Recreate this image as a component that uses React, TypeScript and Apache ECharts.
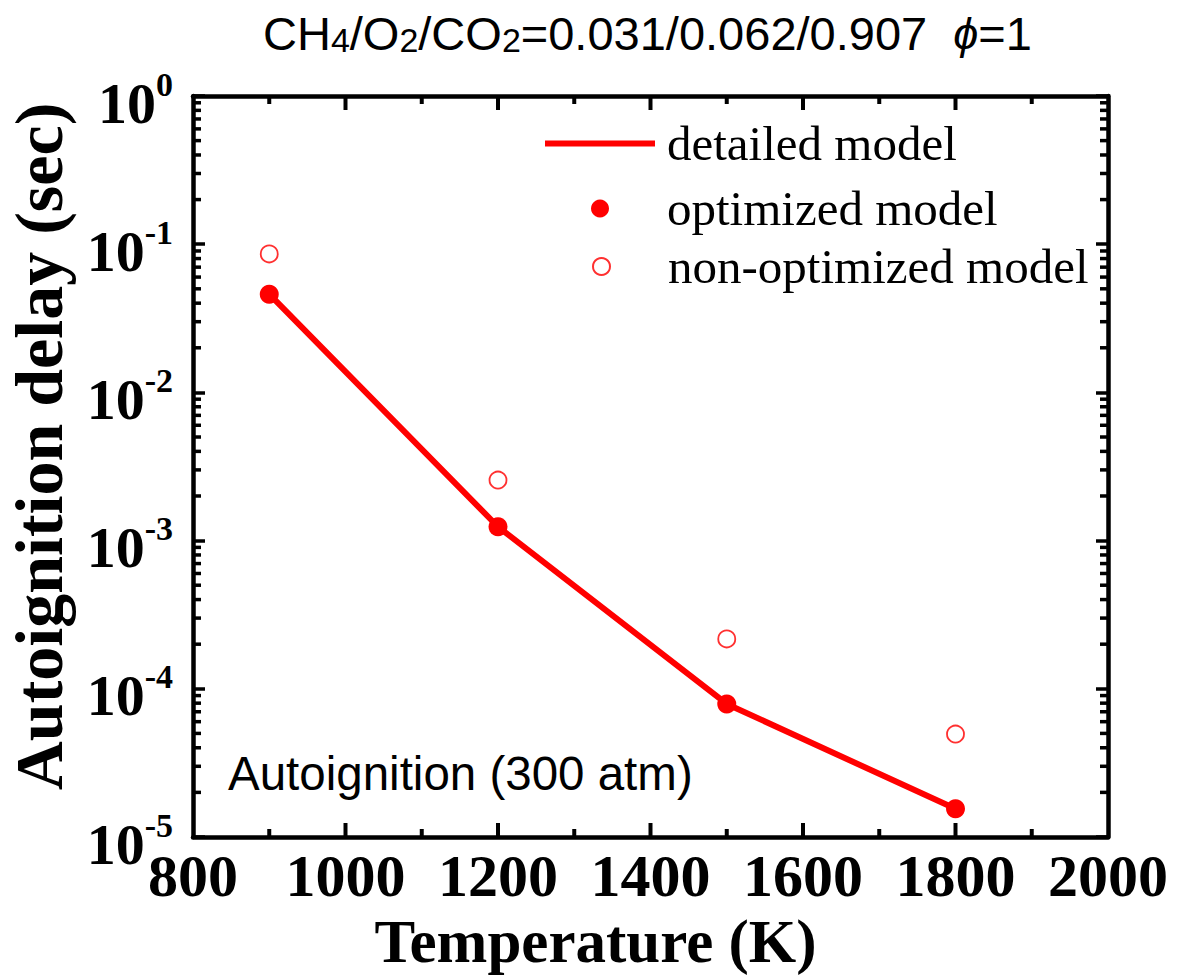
import React, { useEffect, useRef } from "react";
import * as echarts from "echarts";

const temperatures = [900, 1200, 1500, 1800];
const detailedModel = [0.046, 0.00124, 7.9e-5, 1.55e-5];
const optimizedModel = [0.046, 0.00124, 7.9e-5, 1.55e-5];
const nonOptimizedModel = [0.086, 0.00256, 2.17e-4, 4.95e-5];

const xMin = 800;
const xMax = 2000;
const xMajorTicks = [1000, 1200, 1400, 1600, 1800];
const xMinorTicks = [900, 1100, 1300, 1500, 1700, 1900];
const yMin = 1e-5;
const yMax = 1;
const yDecades = [-5, -4, -3, -2, -1];
const yMinorMultipliers = [2, 3, 4, 5, 6, 7, 8, 9];

const seriesNames = ["detailed model", "optimized model", "non-optimized model"];
const annotation = "Autoignition (300 atm)";

const SERIF = '"Liberation Serif", "Times New Roman", serif';
const SANS = '"Liberation Sans", Arial, sans-serif';
const RED = "#ff0000";

export default function App() {
  const ref = useRef<HTMLDivElement>(null);
  useEffect(() => {
    if (!ref.current) return;
    const chart = echarts.init(ref.current, undefined, { renderer: "svg" });

    const yLabel = (v: number) => {
      const e = Math.round(Math.log10(v));
      return `{b|10}{s|${e}}`;
    };

    const mkLine = () => ({ show: true, lineStyle: { color: "#000", width: 4.5 } });
    const mkTick = () => ({ show: true, inside: true, length: 12, lineStyle: { color: "#000", width: 3.5 } });

    const legendText = { fontFamily: SERIF, fontSize: 49, color: "#000" };

    const annotationGraphic = {
      type: "text",
      left: 228,
      top: 749,
      style: { text: annotation, fontFamily: SANS, fontSize: 47.5, fill: "#000" },
    };

    chart.setOption({
      animation: false,
      backgroundColor: "#fff",
      title: {
        left: 258,
        top: 5,
        text: "{n|CH}{s|4}{n|/O}{s|2}{n|/CO}{s|2}{n|=0.031/0.062/0.907  }{i|ϕ}{n|=1}",
        textStyle: {
          fontWeight: "normal",
          rich: {
            n: { fontFamily: SANS, fontWeight: "normal", fontSize: 47, color: "#000", lineHeight: 47 },
            s: { fontFamily: SANS, fontWeight: "normal", fontSize: 34, color: "#000", lineHeight: 34, verticalAlign: "bottom", padding: [40, 0, 0, 0] },
            i: { fontFamily: SANS, fontWeight: "normal", fontSize: 45, fontStyle: "italic", color: "#000", lineHeight: 47 },
          },
        },
      },
      grid: { left: 193, right: 71, top: 96, bottom: 140, containLabel: false, outerBoundsMode: "none" },
      legend: [
        {
          data: [seriesNames[0]],
          left: 540,
          top: 114,
          itemWidth: 110,
          itemHeight: 6,
          icon: "rect",
          textStyle: { ...legendText, padding: [0, 0, 0, 7] },
          selectedMode: false,
        },
        {
          data: [seriesNames[1]],
          left: 586,
          top: 179,
          itemWidth: 18,
          itemHeight: 18,
          icon: "circle",
          textStyle: { ...legendText, padding: [0, 0, 0, 53] },
          selectedMode: false,
        },
        {
          data: [seriesNames[2]],
          left: 587,
          top: 237,
          itemWidth: 17,
          itemHeight: 17,
          icon: "circle",
          textStyle: { ...legendText, padding: [0, 0, 0, 53] },
          selectedMode: false,
        },
      ],
      xAxis: [
        {
          type: "value",
          position: "bottom",
          min: xMin,
          max: xMax,
          splitNumber: 6,
          name: "Temperature (K)",
          nameLocation: "middle",
          nameGap: 66,
          nameTextStyle: { fontFamily: SERIF, fontWeight: "bold", fontSize: 61, color: "#000", padding: [0, 110, 0, 0] },
          axisLine: mkLine(),
          axisTick: { show: false },
          splitLine: { show: false },
          axisLabel: {
            fontFamily: SERIF,
            fontWeight: "bold",
            fontSize: 60,
            color: "#000",
            margin: 9,
            formatter: (v: number) => String(v),
          },
        },
        {
          type: "value",
          position: "top",
          min: xMin,
          max: xMax,
          splitNumber: 6,
          axisLine: mkLine(),
          axisTick: { show: false },
          splitLine: { show: false },
          axisLabel: { show: false },
        },
      ],
      yAxis: [
        {
          type: "log",
          logBase: 10,
          position: "left",
          min: yMin,
          max: yMax,
          name: "Autoignition delay (sec)",
          nameLocation: "middle",
          nameGap: 120,
          nameTextStyle: { fontFamily: SERIF, fontWeight: "bold", fontSize: 68, color: "#000", padding: [0, 0, 0, 40] },
          axisLine: mkLine(),
          axisTick: mkTick(),
          splitLine: { show: false },
          axisLabel: {
            margin: 20,
            formatter: yLabel,
            rich: {
              b: { fontFamily: SERIF, fontWeight: "bold", fontSize: 58, color: "#000", lineHeight: 58, padding: [14, 0, 0, 0] },
              s: { fontFamily: SERIF, fontWeight: "bold", fontSize: 34, color: "#000", lineHeight: 34, verticalAlign: "top" },
            },
          },
        },
        {
          type: "log",
          logBase: 10,
          position: "right",
          min: yMin,
          max: yMax,
          axisLine: mkLine(),
          axisTick: mkTick(),
          splitLine: { show: false },
          axisLabel: { show: false },
        },
      ],
      series: [
        {
          type: "line",
          name: seriesNames[0],
          data: temperatures.map((t, i) => [t, detailedModel[i]]),
          symbol: "none",
          lineStyle: { color: RED, width: 6 },
          itemStyle: { color: RED },
          z: 3,
        },
        {
          type: "scatter",
          name: seriesNames[1],
          data: temperatures.map((t, i) => [t, optimizedModel[i]]),
          symbol: "circle",
          symbolSize: 19,
          itemStyle: { color: RED, opacity: 1 },
          z: 4,
        },
        {
          type: "scatter",
          name: seriesNames[2],
          data: temperatures.map((t, i) => [t, nonOptimizedModel[i]]),
          symbol: "circle",
          symbolSize: 17,
          itemStyle: { color: "#fff", borderColor: "#ff3030", borderWidth: 1.8, opacity: 1 },
          z: 4,
        },
      ],
      graphic: [annotationGraphic],
    });

    // Tick marks placed through the chart's own axis scales (drawn as thin rects)
    const ticks: any[] = [];
    const px = (x: number, y: number) =>
      chart.convertToPixel({ gridIndex: 0 }, [x, y]) as number[];
    const tickRect = (x: number, y: number, w: number, h: number) => ({
      type: "rect",
      silent: true,
      z: 50,
      shape: { x, y, width: w, height: h },
      style: { fill: "#000" },
    });
    const TW = 3.5;
    const XW = 4;
    const addX = (x: number, len: number) => {
      const b = px(x, yMin);
      const t = px(x, yMax);
      ticks.push(tickRect(b[0] - XW / 2, b[1] - len, XW, len));
      ticks.push(tickRect(t[0] - XW / 2, t[1], XW, len));
    };
    xMajorTicks.forEach((x) => addX(x, 14));
    xMinorTicks.forEach((x) => addX(x, 8));
    yDecades.forEach((d) => {
      yMinorMultipliers.forEach((m) => {
        const v = m * Math.pow(10, d);
        const l = px(xMin, v);
        const r = px(xMax, v);
        ticks.push(tickRect(l[0], l[1] - TW / 2, 8, TW));
        ticks.push(tickRect(r[0] - 8, r[1] - TW / 2, 8, TW));
      });
    });
    chart.setOption({ graphic: [annotationGraphic, ...ticks] });

    return () => chart.dispose();
  }, []);
  return (
    <div
      ref={ref}
      style={{ position: "fixed", left: 0, top: 0, width: 1179, height: 977, background: "#fff" }}
    />
  );
}
